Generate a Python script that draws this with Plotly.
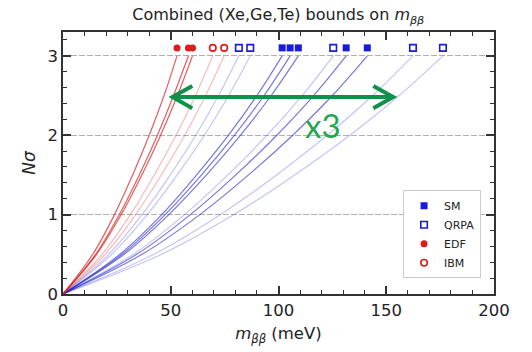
import plotly.graph_objects as go

# Nσ levels at which the curves were read
nsigma = [0, 0.5, 1.0, 1.5, 2.0, 2.5, 3.0]

# m_bb (meV) at each Nσ level, one list per curve
edf_curves = [
    [0, 13.8, 23.9, 32.3, 40.0, 46.9, 52.9],
    [0, 15.1, 26.1, 35.4, 43.8, 51.3, 58.2],
    [0, 15.6, 27.0, 36.6, 45.3, 53.1, 60.1],
]
ibm_curves = [
    [0, 18.1, 31.3, 42.4, 52.5, 61.5, 69.5],
    [0, 19.5, 33.7, 45.6, 56.5, 66.2, 74.8],
]
qrpa_curves = [
    [0, 21.2, 36.7, 49.8, 61.6, 72.2, 81.6],
    [0, 22.6, 39.1, 53.0, 65.6, 76.9, 86.9],
    [0, 32.6, 56.4, 76.5, 94.7, 111.0, 125.4],
    [0, 42.2, 73.1, 99.1, 122.6, 143.7, 162.4],
    [0, 45.8, 79.3, 107.5, 133.1, 156.0, 176.3],
]
sm_curves = [
    [0, 26.4, 45.8, 62.0, 76.8, 90.0, 101.7],
    [0, 27.4, 47.4, 64.3, 79.6, 93.3, 105.4],
    [0, 28.4, 49.1, 66.6, 82.4, 96.6, 109.2],
    [0, 34.2, 59.1, 80.2, 99.2, 116.3, 131.4],
    [0, 36.7, 63.5, 86.1, 106.6, 125.0, 141.2],
]

# 3σ bound markers (placed just above the 3σ line)
marker_level = 3.1
sm_bounds = [101.7, 105.4, 109.2, 131.4, 141.2]
qrpa_bounds = [81.6, 86.9, 125.4, 162.4, 176.3]
edf_bounds = [52.9, 58.2, 60.1]
ibm_bounds = [69.5, 74.8]

BLUE = "#1a1adb"
RED = "#e01b1b"

fig = go.Figure()

def add_curves(curves, color, width=1.2):
    for c in curves:
        fig.add_trace(go.Scatter(x=c, y=nsigma, mode="lines",
                                 line=dict(color=color, width=width, shape="spline"),
                                 showlegend=False, hoverinfo="skip"))

add_curves(qrpa_curves, "rgba(60,60,225,0.30)")
add_curves(sm_curves, "rgba(30,30,200,0.60)")
add_curves(ibm_curves, "rgba(225,60,60,0.35)")
add_curves(edf_curves, "rgba(215,25,25,0.70)")

fig.add_trace(go.Scatter(x=sm_bounds, y=[marker_level]*len(sm_bounds), mode="markers",
                         name="SM", marker=dict(symbol="square", size=7, color=BLUE)))
fig.add_trace(go.Scatter(x=qrpa_bounds, y=[marker_level]*len(qrpa_bounds), mode="markers",
                         name="QRPA", marker=dict(symbol="square-open", size=6.5, color=BLUE,
                                                  line=dict(width=1.6, color=BLUE))))
fig.add_trace(go.Scatter(x=edf_bounds, y=[marker_level]*len(edf_bounds), mode="markers",
                         name="EDF", marker=dict(symbol="circle", size=7, color=RED)))
fig.add_trace(go.Scatter(x=ibm_bounds, y=[marker_level]*len(ibm_bounds), mode="markers",
                         name="IBM", marker=dict(symbol="circle-open", size=6.5, color=RED,
                                                 line=dict(width=1.6, color=RED))))

# green double-headed arrow and "x3" label
GREEN = "#12904a"
ay = 2.48
x_left, x_right = 50.5, 153.5
fig.add_shape(type="line", x0=x_left, x1=x_right, y0=ay, y1=ay,
              line=dict(color=GREEN, width=4))
fig.add_shape(type="path",
              path=f"M {x_left+9.5},{ay+0.14} L {x_left+0.3},{ay} L {x_left+9.5},{ay-0.14}",
              line=dict(color=GREEN, width=4))
fig.add_shape(type="path",
              path=f"M {x_right-9.5},{ay+0.14} L {x_right-0.3},{ay} L {x_right-9.5},{ay-0.14}",
              line=dict(color=GREEN, width=4))
fig.add_annotation(x=120.5, y=2.13, text="x3", showarrow=False,
                   font=dict(family="Lato", size=33, color="#1fa84e"))

axis_common = dict(
    showline=True, linecolor="#333333", linewidth=1.5, mirror="ticks",
    ticks="inside", ticklen=8, tickwidth=1.5, tickcolor="#333333",
    tickfont=dict(family="DejaVu Sans", size=16.5, color="#222222"),
    zeroline=False,
)

fig.update_xaxes(range=[0, 200], dtick=50, showgrid=False,
                 minor=dict(ticks="inside", ticklen=4, tickwidth=1, dtick=10, tickcolor="#333333"),
                 title=dict(text="<i>m</i><sub><i>ββ</i></sub> (meV)",
                            font=dict(family="DejaVu Sans", size=16.5, color="#222222"),
                            standoff=9),
                 **axis_common)
fig.update_yaxes(range=[0, 3.3], dtick=1, showgrid=True, gridcolor="#b0b0b0",
                 gridwidth=1, griddash="6px,2px",
                 minor=dict(ticks="inside", ticklen=4, tickwidth=1, dtick=0.2, tickcolor="#333333"),
                 title=dict(text="<i>Nσ</i>",
                            font=dict(family="DejaVu Sans", size=17, color="#222222"),
                            standoff=8),
                 **axis_common)

fig.update_layout(
    width=532, height=352,
    margin=dict(l=63, r=38, t=32, b=56),
    paper_bgcolor="white", plot_bgcolor="white",
    title=dict(text="Combined (Xe,Ge,Te) bounds on <i>m</i><sub><i>ββ</i></sub>",
               x=0.523, xanchor="center", y=0.958, yanchor="middle",
               font=dict(family="DejaVu Sans", size=16, color="#222222")),
    legend=dict(x=0.97, xanchor="right", y=0.06, yanchor="bottom",
                bgcolor="white", bordercolor="#cccccc", borderwidth=1,
                font=dict(family="DejaVu Sans", size=11, color="#222222"),
                itemwidth=30, tracegroupgap=2),
    showlegend=True,
)

fig.write_html("out.html")
